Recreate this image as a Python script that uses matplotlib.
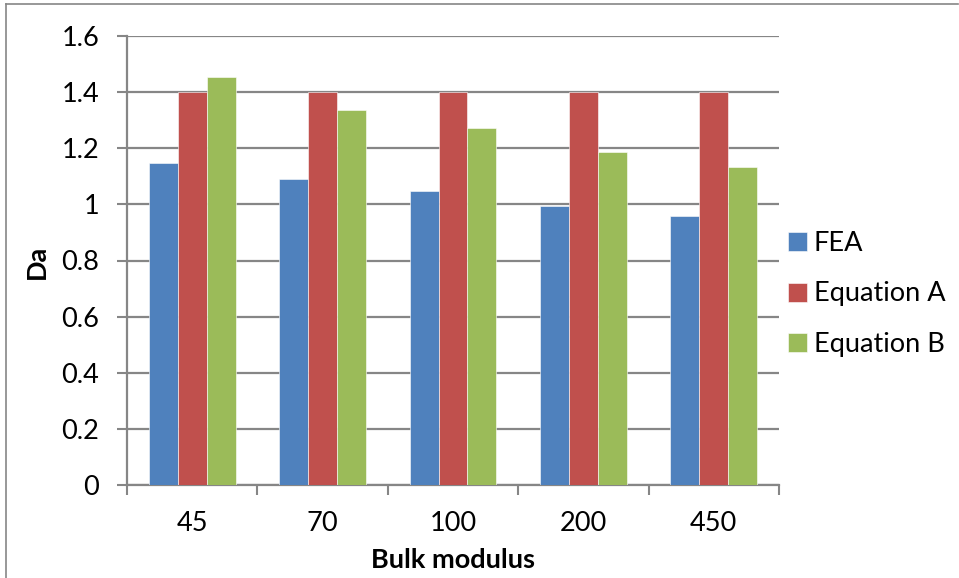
import matplotlib
matplotlib.use("Agg")
import matplotlib.pyplot as plt
import numpy as np
from matplotlib.lines import Line2D

categories = ["45", "70", "100", "200", "450"]
fea = [1.146, 1.089, 1.048, 0.994, 0.959]
equation_a = [1.40, 1.40, 1.40, 1.40, 1.40]
equation_b = [1.453, 1.337, 1.272, 1.188, 1.133]
series_names = ["FEA", "Equation A", "Equation B"]
series_colors = ["#4F81BD", "#C0504D", "#9BBB59"]
y_ticks = [0, 0.2, 0.4, 0.6, 0.8, 1, 1.2, 1.4, 1.6]
y_tick_labels = ["0", "0.2", "0.4", "0.6", "0.8", "1", "1.2", "1.4", "1.6"]

plt.rcParams["font.family"] = ["Lato", "DejaVu Sans"]
FS = 19.5

W, H = 959, 578
fig = plt.figure(figsize=(W / 100, H / 100), dpi=100)
ax = fig.add_axes([127 / W, 1 - 485 / H, (779 - 127) / W, (485 - 36) / H])

grid_color = "#868686"
x = np.arange(len(categories))
bw = 1 / 4.5
for i, (vals, name, col) in enumerate(zip([fea, equation_a, equation_b], series_names, series_colors)):
    ax.bar(x + (i - 1) * bw, vals, width=bw, color=col, label=name,
           edgecolor="white", linewidth=0.4, zorder=3)

ax.set_xlim(-0.5, len(categories) - 0.5)
ax.set_ylim(0, 1.6)
ax.set_yticks(y_ticks)
ax.set_yticklabels(y_tick_labels, fontsize=FS)
ax.yaxis.grid(True, color=grid_color, linewidth=1.6, zorder=0)
ax.set_axisbelow(True)

ax.set_xticks(x)
ax.set_xticklabels(categories, fontsize=FS)
ax.tick_params(axis="x", length=0, pad=19)
ax.set_xticks(np.arange(len(categories) + 1) - 0.5, minor=True)
ax.tick_params(axis="x", which="minor", length=7, width=1.5, color=grid_color, direction="out")
ax.tick_params(axis="y", length=7, width=1.5, color=grid_color, direction="out", pad=13)

for s in ["top", "right"]:
    ax.spines[s].set_visible(False)
for s in ["left", "bottom"]:
    ax.spines[s].set_color(grid_color)
    ax.spines[s].set_linewidth(1.6)

fig.text(37 / W, 1 - 262 / H, "Da", rotation=90, fontsize=FS, fontweight="bold",
         ha="center", va="center")
fig.text(453 / W, 1 - 560 / H, "Bulk modulus", fontsize=FS, fontweight="bold",
         ha="center", va="center")

leg = fig.legend(loc="center left", bbox_to_anchor=(777 / W, 1 - 294 / H), frameon=False,
                 fontsize=FS, handlelength=0.7, handleheight=0.7, handletextpad=0.25,
                 labelspacing=0.95, borderaxespad=0)

# thin frame around the chart area
fig.add_artist(Line2D([6 / W, 6 / W], [0, 1 - 4 / H], transform=fig.transFigure,
                      color=grid_color, linewidth=1.2))
fig.add_artist(Line2D([6 / W, 958 / W], [1 - 4 / H, 1 - 4 / H], transform=fig.transFigure,
                      color=grid_color, linewidth=1.2))

fig.savefig("out.png", dpi=100)
